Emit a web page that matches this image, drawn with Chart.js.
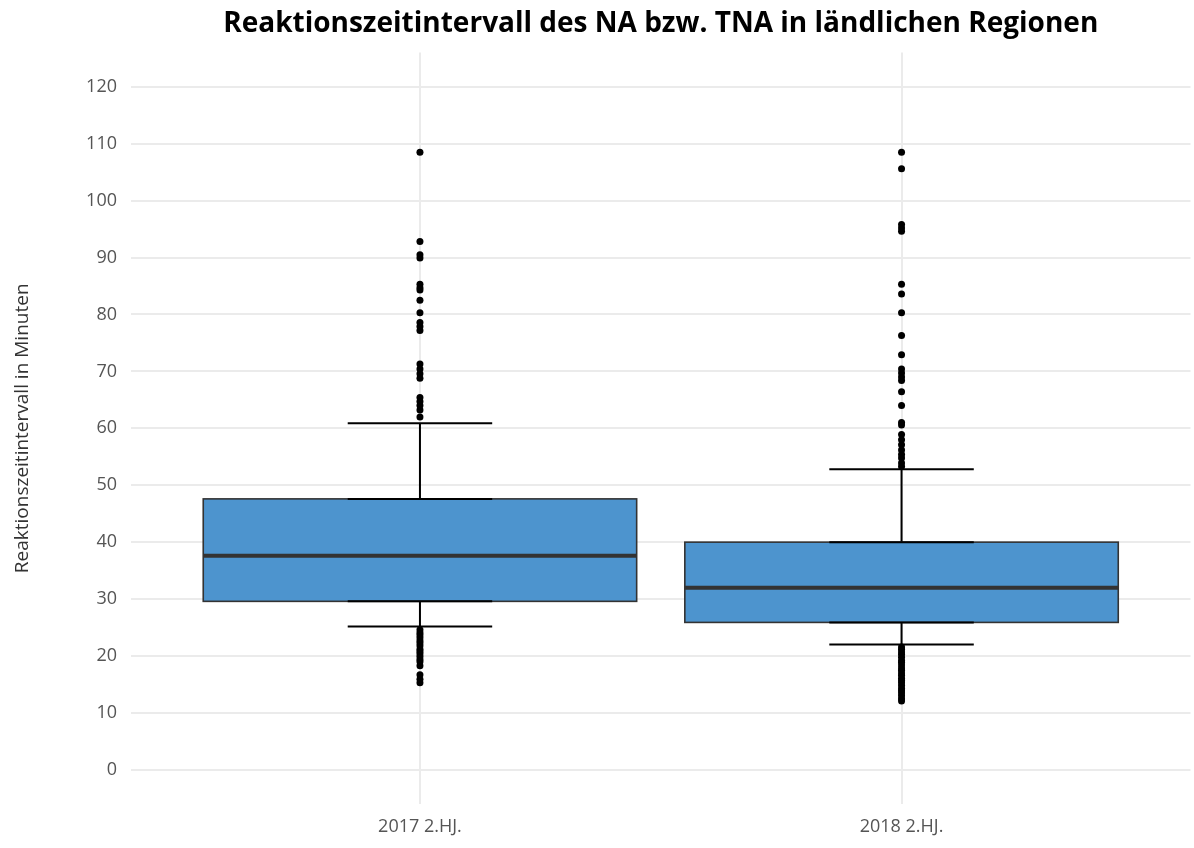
<!DOCTYPE html>
<html>
<head>
<meta charset="utf-8">
<script src="https://cdn.jsdelivr.net/npm/chart.js@4"></script>
<style>
  body { margin: 0; background: #fff; }
</style>
</head>
<body>
<canvas id="boxChart" width="1194" height="848"></canvas>
<script>
// Kennwerte je Halbjahr
const categories = ['2017 2.HJ.', '2018 2.HJ.'];
const lowerWhisker = [25.2, 22.0];
const q1 = [29.6, 25.9];
const median = [37.6, 32.0];
const q3 = [47.6, 40.0];
const upperWhisker = [60.9, 52.8];

// Ausreisser
const outliers2017 = [108.5, 92.8, 90.5, 89.9, 85.3, 84.7, 84.3, 82.5, 80.3, 78.6, 77.9, 77.2,
  71.3, 70.4, 69.6, 68.8, 65.4, 64.7, 64.0, 63.2, 62.0,
  24.6, 24.1, 23.7, 23.2, 22.7, 22.3, 21.8, 21.2, 20.8, 20.4, 19.9, 19.4, 19.0, 18.3, 16.7, 15.9, 15.3];
const outliers2018 = [108.5, 105.6, 95.8, 95.2, 94.6, 85.3, 83.6, 80.3, 76.3, 72.9,
  70.4, 69.7, 69.0, 68.4, 66.4, 64.0, 61.0, 60.6, 58.9, 58.0, 57.1, 56.2, 55.4, 54.8, 53.9, 53.3,
  21.6, 21.2, 20.7, 20.3, 19.8, 19.2, 18.9, 18.4, 17.9, 17.5, 17.0, 16.6, 16.1, 15.7, 15.3,
  14.8, 14.3, 13.9, 13.5, 13.0, 12.5, 12.1];

const yTicks = [0, 10, 20, 30, 40, 50, 60, 70, 80, 90, 100, 110, 120];

const gridColor = '#ebebeb';
const tickFont = { family: 'Open Sans', size: 18 };

// Boxen und Whisker ueber die Skalen zeichnen
const boxPlugin = {
  id: 'boxes',
  beforeDatasetsDraw(chart) {
    const ctx = chart.ctx;
    const xs = chart.scales.x;
    const ys = chart.scales.y;
    categories.forEach((c, i) => {
      const x = i + 1;
      const cx = xs.getPixelForValue(x);
      const bl = xs.getPixelForValue(x - 0.45);
      const br = xs.getPixelForValue(x + 0.45);
      const cl = xs.getPixelForValue(x - 0.15);
      const cr = xs.getPixelForValue(x + 0.15);
      const yQ1 = ys.getPixelForValue(q1[i]);
      const yQ3 = ys.getPixelForValue(q3[i]);
      const yMed = ys.getPixelForValue(median[i]);
      const yLo = ys.getPixelForValue(lowerWhisker[i]);
      const yHi = ys.getPixelForValue(upperWhisker[i]);

      ctx.save();
      // Whisker
      ctx.strokeStyle = '#000';
      ctx.lineWidth = 2;
      ctx.beginPath();
      ctx.moveTo(cx, yQ3); ctx.lineTo(cx, yHi);
      ctx.moveTo(cx, yQ1); ctx.lineTo(cx, yLo);
      ctx.stroke();

      // Box
      ctx.fillStyle = '#4d94ce';
      ctx.fillRect(bl, yQ3, br - bl, yQ1 - yQ3);
      ctx.strokeStyle = '#333';
      ctx.lineWidth = 1.6;
      ctx.strokeRect(bl, yQ3, br - bl, yQ1 - yQ3);

      // Median
      ctx.lineWidth = 4;
      ctx.beginPath();
      ctx.moveTo(bl, yMed); ctx.lineTo(br, yMed);
      ctx.stroke();

      // Kappen
      ctx.strokeStyle = '#000';
      ctx.lineWidth = 2;
      ctx.beginPath();
      [yHi, yQ3, yQ1, yLo].forEach(y => { ctx.moveTo(cl, y); ctx.lineTo(cr, y); });
      ctx.stroke();
      ctx.restore();
    });
  }
};

const ctx = document.getElementById('boxChart').getContext('2d');
new Chart(ctx, {
  type: 'scatter',
  data: {
    datasets: [
      { data: outliers2017.map(v => ({ x: 1, y: v })) },
      { data: outliers2018.map(v => ({ x: 2, y: v })) }
    ]
  },
  options: {
    responsive: false,
    animation: false,
    layout: { padding: 0 },
    elements: {
      point: { radius: 3.5, backgroundColor: '#000', borderWidth: 0, hoverRadius: 3.5 }
    },
    plugins: {
      legend: { display: false },
      tooltip: { enabled: false },
      title: {
        display: true,
        fullSize: false,
        text: 'Reaktionszeitintervall des NA bzw. TNA in ländlichen Regionen',
        color: '#000',
        font: { family: 'Open Sans', size: 28, weight: 'bold' },
        padding: { top: 7, bottom: 12 }
      }
    },
    scales: {
      x: {
        type: 'linear',
        min: 0.4,
        max: 2.6,
        afterBuildTicks: s => { s.ticks = categories.map((c, i) => ({ value: i + 1 })); },
        afterFit: s => { s.height = 44; },
        border: { display: false },
        grid: { color: gridColor, lineWidth: 2, drawTicks: false },
        ticks: {
          autoSkip: false,
          maxRotation: 0,
          padding: 12,
          color: '#555',
          font: tickFont,
          callback: v => categories[v - 1]
        }
      },
      y: {
        min: -6,
        max: 126,
        afterBuildTicks: s => { s.ticks = yTicks.map(v => ({ value: v })); },
        afterFit: s => { s.width = 131; },
        border: { display: false },
        grid: { color: gridColor, lineWidth: 2, drawTicks: false },
        ticks: { padding: 14, color: '#555', font: tickFont },
        title: {
          display: true,
          text: 'Reaktionszeitintervall in Minuten',
          color: '#333',
          font: { family: 'Open Sans', size: 19 },
          padding: { top: 11, bottom: 0 }
        }
      }
    }
  },
  plugins: [boxPlugin]
});
</script>
</body>
</html>
